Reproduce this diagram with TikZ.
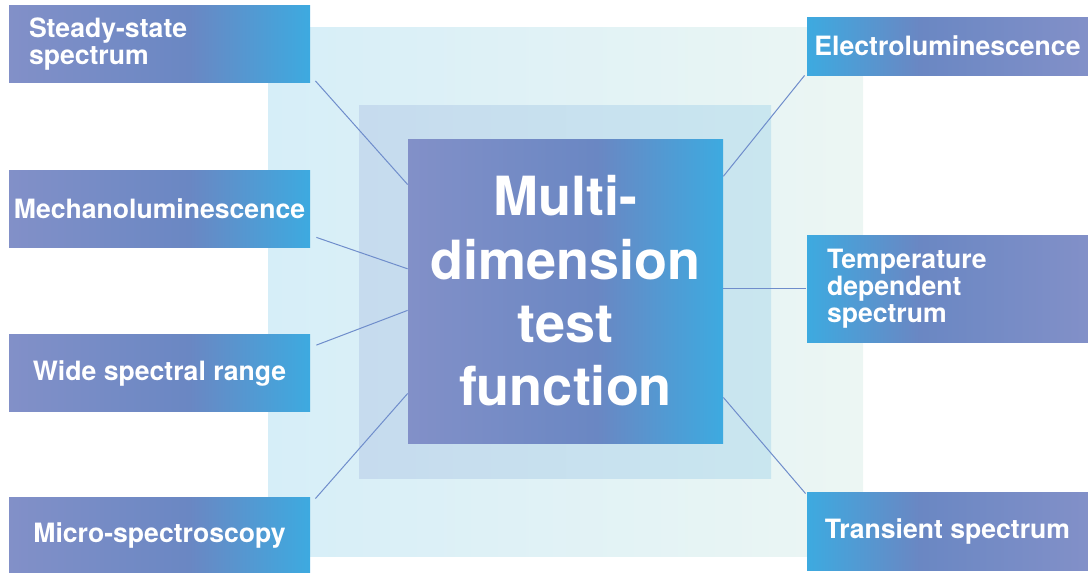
\documentclass[tikz,border=0pt]{standalone}
\usepackage{fontspec}
\setmainfont{TeX Gyre Heros}
\usepackage{tikz}

\definecolor{lilac}{HTML}{8290C8}
\definecolor{midblue}{HTML}{6A87C3}
\definecolor{skyblue}{HTML}{3DAAE0}
\definecolor{paleleft}{HTML}{D6EEF8}
\definecolor{paleright}{HTML}{ECF6F3}
\definecolor{innerleft}{HTML}{C6DBEE}
\definecolor{innerright}{HTML}{C9E6EF}
\definecolor{linkblue}{HTML}{6F8DCB}

% lilac on the left, cyan on the right, and the mirror of it
\pgfdeclarehorizontalshading{lilactosky}{100bp}{color(0bp)=(lilac); color(25bp)=(lilac);
  color(55bp)=(midblue); color(75bp)=(skyblue); color(100bp)=(skyblue)}
\pgfdeclarehorizontalshading{skytolilac}{100bp}{color(0bp)=(skyblue); color(25bp)=(skyblue);
  color(45bp)=(midblue); color(75bp)=(lilac); color(100bp)=(lilac)}

\begin{document}
\begin{tikzpicture}[
    x=0.5pt, y=-0.5pt,
    panel/.style={rectangle, inner sep=0pt},
    core/.style={rectangle, inner sep=0pt, text=white, align=center,
                 minimum width=157.5pt, minimum height=152pt,
                 shade, shading=lilactosky,
                 font=\bfseries\fontsize{27}{31.7}\selectfont},
    leftbox/.style={rectangle, inner sep=2pt, text=white,
                    minimum width=150.5pt, minimum height=38.5pt,
                    shade, shading=lilactosky,
                    font=\bfseries\fontsize{13.3}{13.5}\selectfont},
    rightbox/.style={leftbox, minimum width=140.5pt, shading=skytolilac},
    link/.style={draw=linkblue, line width=0.5pt}
]
\useasboundingbox (0,0) rectangle (1088,573);

\node (outer) [panel, minimum width=297.5pt, minimum height=264.5pt,
               left color=paleleft, right color=paleright] at (565.5,291.5) {};
\node (inner) [panel, minimum width=206pt, minimum height=186.5pt,
               left color=innerleft, right color=innerright] at (565,291.5) {};
\node (core) [core] at (565.5,291) {Multi-\\dimension\\test\\function};

\node (steady) [leftbox, align=left, text width=130.5pt, inner xsep=10pt]
      at (159.5,44) {Steady-state\\spectrum};
\node (mechano) [leftbox] at (159.5,208.5) {Mechanoluminescence};
\node (wide) [leftbox] at (159.5,373) {Wide spectral range};
\node (micro) [leftbox] at (159.5,535.5) {Micro-spectroscopy};

\node (electro) [rightbox, minimum height=29pt] at (947.5,46) {Electroluminescence};
\node (temp) [rightbox, align=left, text width=120.5pt, inner xsep=9.5pt,
              minimum height=53.5pt] at (947.5,288.5) {Temperature\\dependent\\spectrum};
\node (transient) [rightbox, minimum height=39pt] at (947.5,531) {Transient spectrum};

\draw [link] ([xshift=2.5pt, yshift=1pt]steady.south east) -- (core.146.8);
\draw [link] ([xshift=3pt, yshift=5pt]mechano.south east) -- (core.172.4);
\draw [link] ([xshift=3pt, yshift=-5.5pt]wide.north east) -- (core.187.2);
\draw [link] ([xshift=2.5pt, yshift=-1pt]micro.north east) -- (core.213.2);
\draw [link] ([xshift=-1pt]electro.south west) -- (core.36.4);
\draw [link] ([xshift=-0.5pt]temp.west) -- (temp.west -| core.east);
\draw [link] ([xshift=-0.5pt, yshift=-1pt]transient.north west) -- (core.-34.4);

\end{tikzpicture}
\end{document}
